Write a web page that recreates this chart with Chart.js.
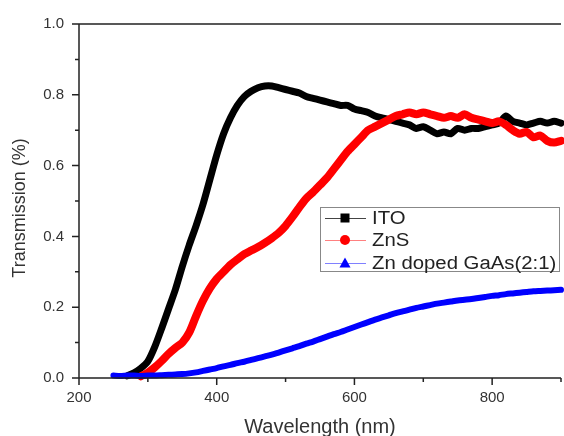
<!DOCTYPE html>
<html><head><meta charset="utf-8">
<script src="https://cdn.jsdelivr.net/npm/chart.js@4.4.0/dist/chart.umd.min.js"></script>
<style>
html,body{margin:0;padding:0;background:#fff;overflow:hidden;width:564px;height:436px}
#wrap{width:572px;height:436px}
</style></head>
<body><div id="wrap"><canvas id="c" width="572" height="436"></canvas></div>
<script>
// ---- data ----
const wavelengths = [240,250,260,270,280,290,300,310,320,330,340,350,360,370,380,390,400,410,420,430,440,450,460,470,480,490,500,510,520,530,540,550,560,570,580,590,600,610,620,630,640,650,660,670,680,690,700,710,720,730,740,750,760,770,780,790,800,810,820,830,840,850,860,870,880,890,900];
const itoValues = [null,null,null,0.006,0.015,0.028,0.047,0.088,0.14,0.195,0.25,0.315,0.375,0.43,0.49,0.56,0.63,0.69,0.735,0.77,0.795,0.81,0.82,0.825,0.825,0.82,0.815,0.81,0.805,0.795,0.79,0.785,0.78,0.775,0.77,0.77,0.76,0.755,0.75,0.74,0.735,0.73,0.725,0.72,0.715,0.705,0.71,0.70,0.69,0.695,0.69,0.705,0.70,0.705,0.705,0.71,0.715,0.72,0.74,0.725,0.72,0.715,0.72,0.725,0.72,0.725,0.72];
const znsValues = [null,null,null,null,null,0.005,0.015,0.03,0.048,0.068,0.085,0.10,0.128,0.175,0.218,0.253,0.28,0.30,0.32,0.335,0.35,0.36,0.37,0.382,0.395,0.41,0.43,0.455,0.482,0.507,0.525,0.545,0.565,0.59,0.615,0.64,0.66,0.68,0.70,0.71,0.72,0.73,0.74,0.745,0.75,0.745,0.75,0.745,0.74,0.735,0.74,0.735,0.745,0.735,0.73,0.725,0.72,0.725,0.715,0.70,0.69,0.695,0.68,0.685,0.67,0.665,0.67];
const gaasValues = [null,0.007,0.006,0.007,0.007,0.006,0.007,0.007,0.008,0.009,0.010,0.011,0.013,0.016,0.02,0.024,0.028,0.033,0.037,0.042,0.046,0.051,0.056,0.061,0.066,0.072,0.078,0.084,0.09,0.097,0.103,0.11,0.117,0.124,0.13,0.137,0.144,0.151,0.158,0.165,0.171,0.177,0.183,0.188,0.193,0.198,0.202,0.206,0.21,0.213,0.216,0.219,0.221,0.223,0.226,0.229,0.232,0.234,0.237,0.239,0.241,0.243,0.245,0.246,0.247,0.248,0.249];
const seriesLabels = ['ITO','ZnS','Zn doped GaAs(2:1)'];
const xTickLabels = [200,400,600,800];
const yTickLabels = ['0.0','0.2','0.4','0.6','0.8','1.0'];
const xTitle = 'Wavelength (nm)';
const yTitle = 'Transmission (%)';

const FONT = "'Liberation Sans', Arial, sans-serif";
const toPts = vals => wavelengths.map((w,i)=>({x:w,y:vals[i]}));

const styles = [
  {color:'#000000', legendLine:'#444444', width:7, marker:'rect'},
  {color:'#ff0000', legendLine:'#ff8080', width:8, marker:'circle'},
  {color:'#0000ff', legendLine:'#8080ff', width:6, marker:'triangle'}
];

const extras = {
  id:'extras',
  afterDraw(chart){
    const {ctx, chartArea:a, scales:{x,y}} = chart;
    ctx.save();
    ctx.strokeStyle='#222'; ctx.lineWidth=1.5;
    ctx.beginPath();
    ctx.moveTo(a.left, a.top); ctx.lineTo(a.right, a.top);
    ctx.moveTo(a.left, a.top); ctx.lineTo(a.left, a.bottom);
    ctx.moveTo(a.left, a.bottom); ctx.lineTo(a.right, a.bottom);
    for (let v=x.min; v<=x.max; v+=100){
      const px = x.getPixelForValue(v); const len = (v%200===0)?7:4;
      ctx.moveTo(px,a.bottom); ctx.lineTo(px,a.bottom+len);
    }
    for (let i=0;i<=10;i++){
      const py = y.getPixelForValue(i/10); const len = (i%2===0)?7:4;
      ctx.moveTo(a.left,py); ctx.lineTo(a.left-len,py);
    }
    ctx.stroke();
    // axis titles
    ctx.fillStyle='#333';
    ctx.font = '20px '+FONT; ctx.textAlign='center'; ctx.textBaseline='middle';
    ctx.fillText(xTitle, (a.left+a.right)/2, 427);
    ctx.save();
    ctx.translate(20, 208); ctx.rotate(-Math.PI/2);
    ctx.font = '18px '+FONT;
    ctx.fillText(yTitle, 0, 0);
    ctx.restore();
    // legend
    const bx=320, by=207, bw=239, bh=64;
    ctx.fillStyle='#fff'; ctx.fillRect(bx,by,bw,bh);
    ctx.strokeStyle='#888'; ctx.lineWidth=1; ctx.strokeRect(bx+0.5,by+0.5,bw,bh);
    const rows=[218,240,263];
    chart.data.datasets.forEach((ds,i)=>{
      const st = styles[i]; const ry = rows[i];
      ctx.strokeStyle=st.legendLine; ctx.lineWidth=1;
      ctx.beginPath(); ctx.moveTo(325,ry+0.5); ctx.lineTo(366,ry+0.5); ctx.stroke();
      ctx.fillStyle=st.color;
      const cx=345;
      if (st.marker==='rect') ctx.fillRect(cx-4.5,ry-4.5,9,9);
      else if (st.marker==='circle'){ ctx.beginPath(); ctx.arc(cx,ry,5,0,Math.PI*2); ctx.fill(); }
      else { ctx.beginPath(); ctx.moveTo(cx,ry-5.5); ctx.lineTo(cx+5.5,ry+4.5); ctx.lineTo(cx-5.5,ry+4.5); ctx.closePath(); ctx.fill(); }
      ctx.save();
      ctx.fillStyle='#222'; ctx.font='18px '+FONT; ctx.textAlign='left'; ctx.textBaseline='middle';
      ctx.translate(372, ry+1); ctx.scale(1.13,1);
      ctx.fillText(ds.label, 0, 0);
      ctx.restore();
    });
    ctx.restore();
  }
};

const valueSets = [itoValues, znsValues, gaasValues];
new Chart(document.getElementById('c'), {
  type:'line',
  data:{
    datasets: valueSets.map((vals,i)=>({
      label: seriesLabels[i],
      data: toPts(vals),
      borderColor: styles[i].color,
      backgroundColor: styles[i].color,
      borderWidth: styles[i].width,
      pointRadius: 0,
      tension: 0.25,
      borderCapStyle:'round',
      borderJoinStyle:'round',
      fill:false,
      order: 3-i,
      clip: 6
    }))
  },
  options:{
    responsive:false, animation:false, devicePixelRatio:1,
    layout:{padding:{top:13,right:1,left:0,bottom:0}},
    plugins:{legend:{display:false}, tooltip:{enabled:false}},
    scales:{
      x:{
        type:'linear', min:200, max:900,
        grid:{display:false, drawTicks:false}, border:{display:false},
        afterFit(s){ s.height = 58; },
        ticks:{
          stepSize:100, autoSkip:false, maxRotation:0, padding:11,
          color:'#333', font:{family:FONT, size:15},
          callback:v => xTickLabels.includes(v) ? String(v) : ''
        }
      },
      y:{
        min:0, max:1,
        grid:{display:false, drawTicks:false}, border:{display:false},
        afterFit(s){ s.width = 79; },
        ticks:{
          stepSize:0.2, padding:15, color:'#333', font:{family:FONT, size:15},
          callback:v => { const idx = Math.round(v*5); return yTickLabels[idx] ?? ''; }
        }
      }
    }
  },
  plugins:[extras]
});
</script>
</body></html>
